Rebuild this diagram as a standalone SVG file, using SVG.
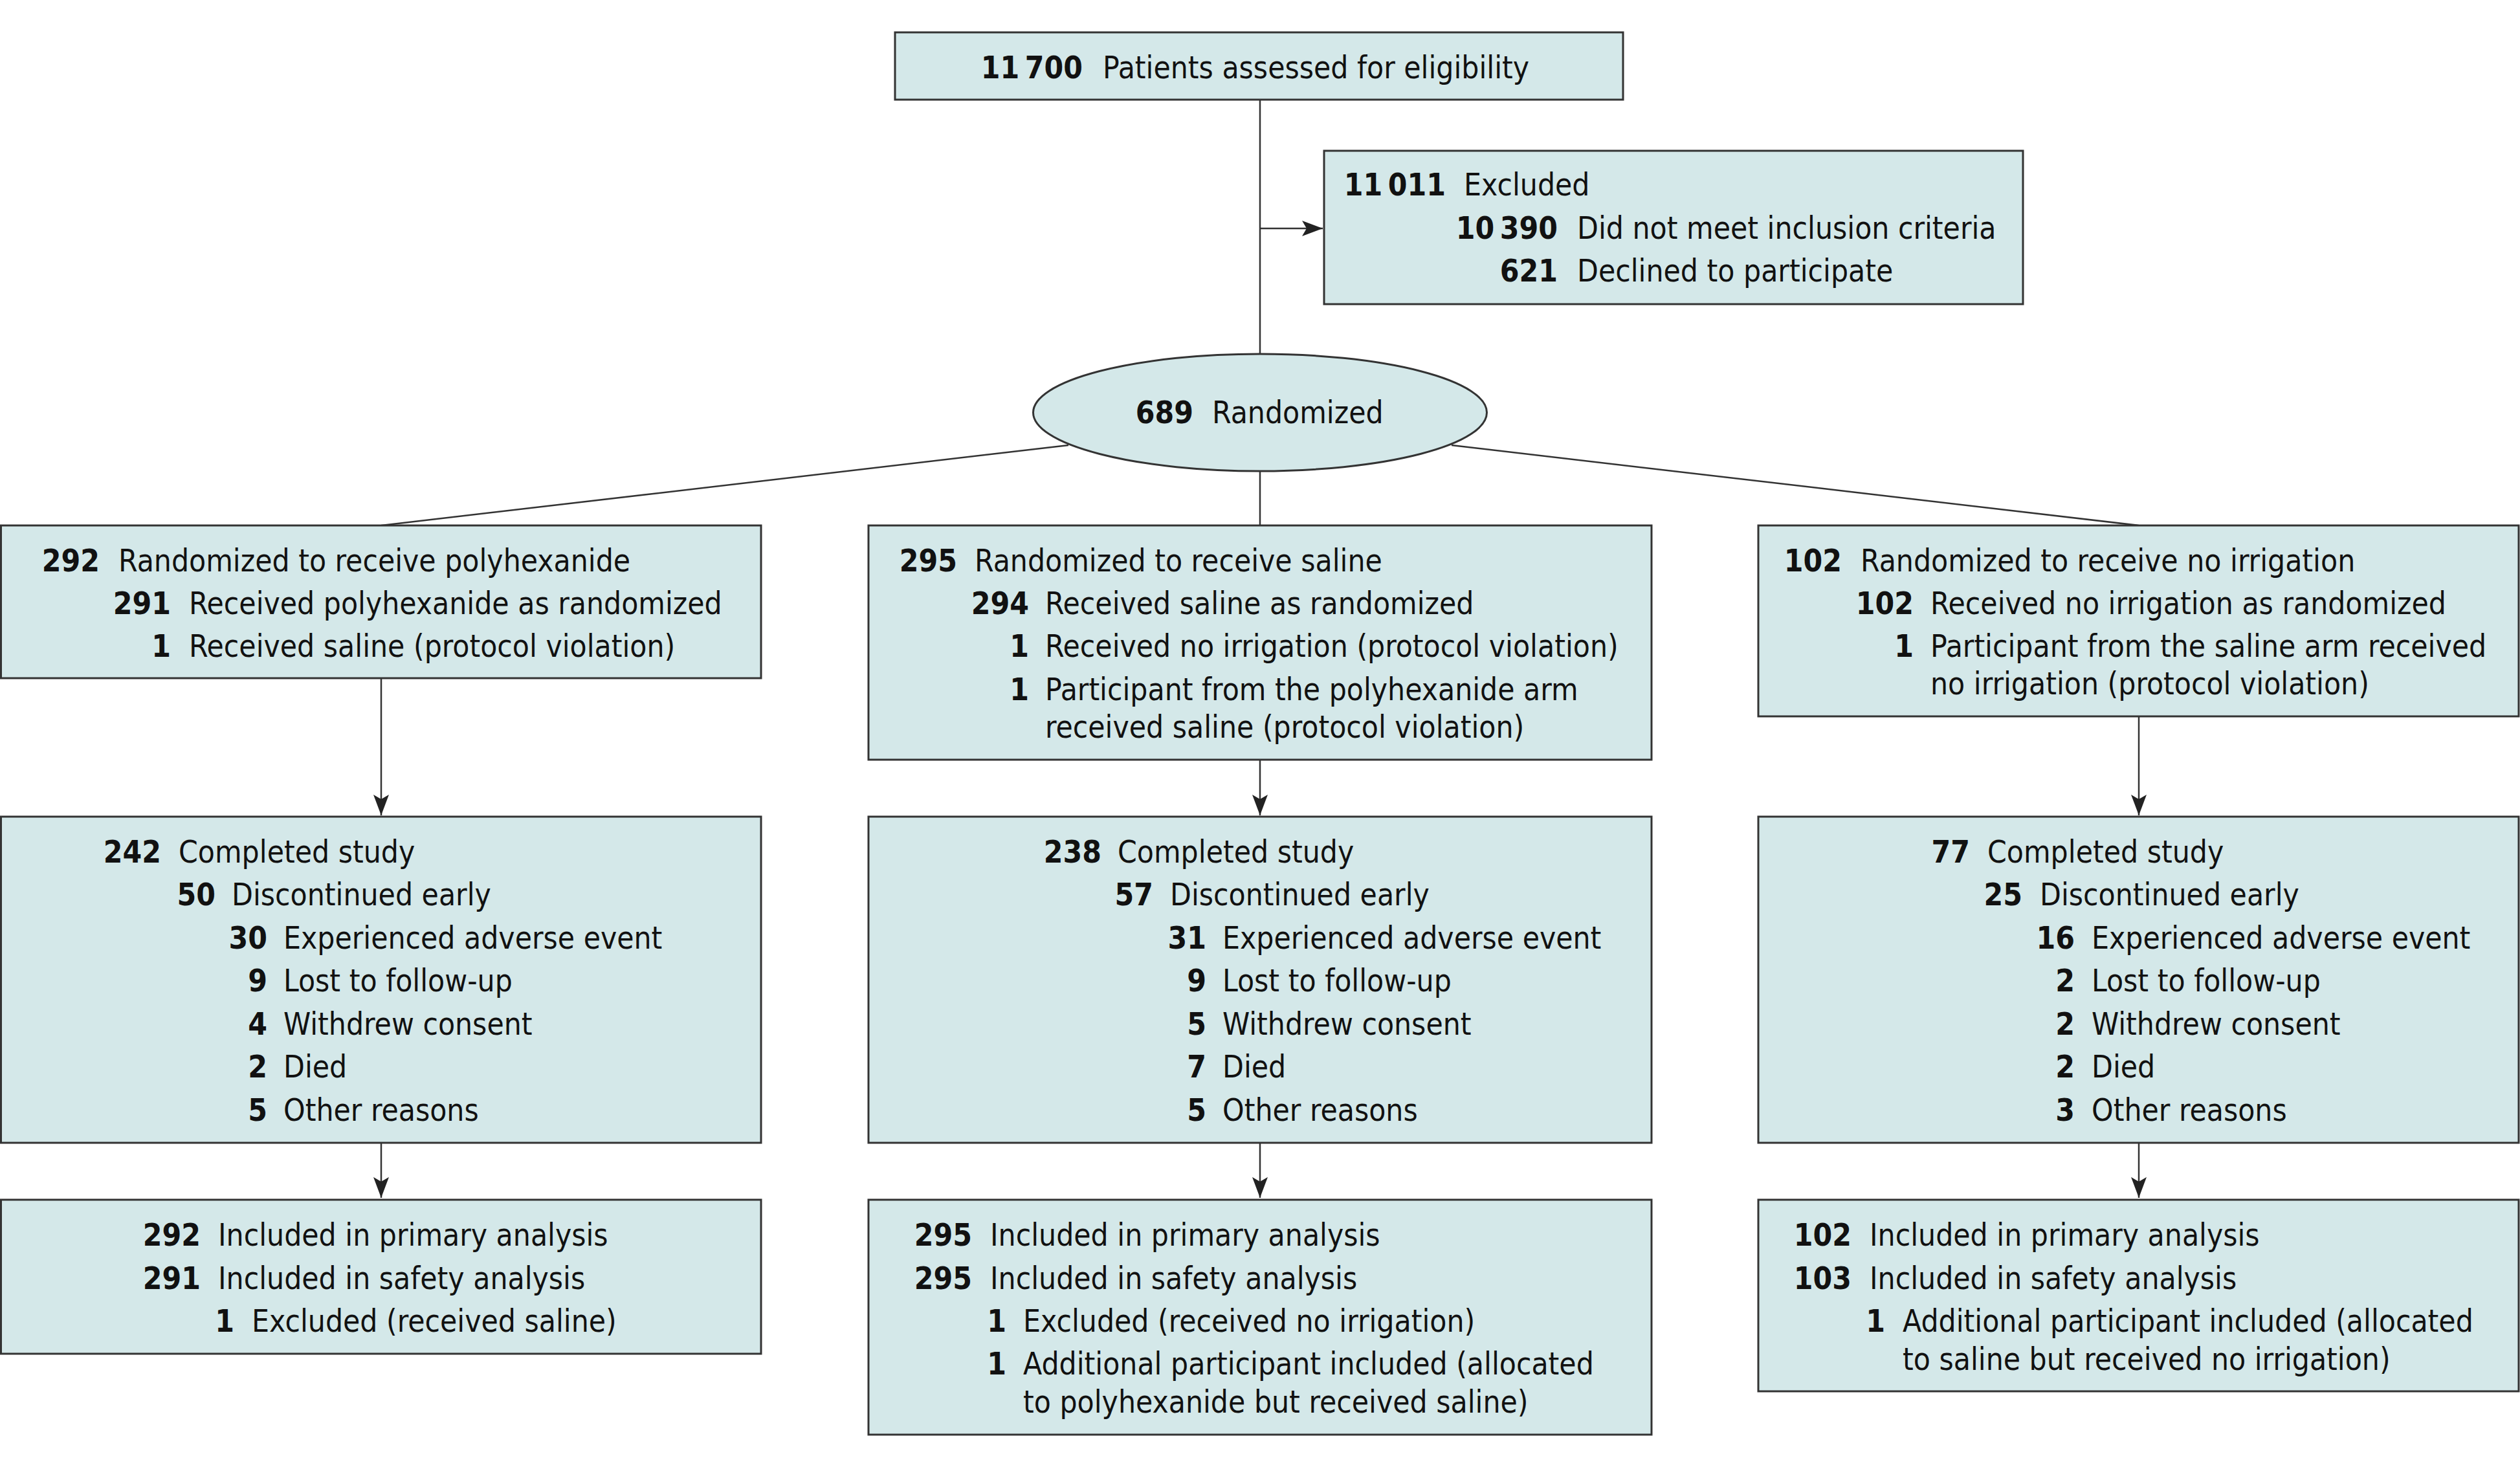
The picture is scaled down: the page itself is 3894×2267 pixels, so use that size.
<svg xmlns="http://www.w3.org/2000/svg" width="3894" height="2267" viewBox="0 0 3894 2267">
<defs>
<style>
.box{fill:#d4e8e9;stroke:#333;stroke-width:3}
text{font-family:"DejaVu Sans Condensed","DejaVu Sans",sans-serif;font-stretch:condensed;font-size:47.5px;fill:#111}
.n{font-weight:bold;text-anchor:end}
.c{fill:none;stroke:#333;stroke-width:2.5}
.a{marker-end:url(#arr)}
</style>
<marker id="arr" markerUnits="userSpaceOnUse" viewBox="-34 -14 36 28" markerWidth="36" markerHeight="28" refX="0" refY="0" orient="auto">
<path d="M0,0 L-32,-12 L-25,0 L-32,12 Z" fill="#222"/>
</marker>
</defs>
<rect width="3894" height="2267" fill="#fff"/>
<g id="connectors">
<line class="c" x1="1947" y1="154" x2="1947" y2="547"/>
<line class="c a" x1="1947" y1="353" x2="2044" y2="353"/>
<line class="c" x1="1651" y1="688" x2="589" y2="812"/>
<line class="c" x1="2243" y1="688" x2="3305" y2="812"/>
<line class="c" x1="1947" y1="728" x2="1947" y2="812"/>
<line class="c a" x1="589" y1="1048" x2="589" y2="1260"/>
<line class="c a" x1="1947" y1="1174" x2="1947" y2="1260"/>
<line class="c a" x1="3305" y1="1107" x2="3305" y2="1260"/>
<line class="c a" x1="589" y1="1766" x2="589" y2="1851"/>
<line class="c a" x1="1947" y1="1766" x2="1947" y2="1851"/>
<line class="c a" x1="3305" y1="1766" x2="3305" y2="1851"/>
</g>
<g id="assessed">
<rect class="box" x="1383" y="50" width="1125" height="104"/>
<text class="n" x="1673" y="121">11&#8201;700</text><text x="1704" y="121">Patients assessed for eligibility</text>
</g>
<g id="excluded">
<rect class="box" x="2046" y="233" width="1080" height="237"/>
<text class="n" x="2234" y="302">11&#8201;011</text><text x="2262" y="302">Excluded</text>
<text class="n" x="2407" y="369">10&#8201;390</text><text x="2437" y="369">Did not meet inclusion criteria</text>
<text class="n" x="2407" y="435">621</text><text x="2437" y="435">Declined to participate</text>
</g>
<g id="randomized">
<ellipse class="box" cx="1947" cy="637.5" rx="350.5" ry="90.5"/>
<text class="n" x="1844" y="654">689</text><text x="1873" y="654">Randomized</text>
</g>
<g id="alloc-polyhexanide">
<rect class="box" x="1.5" y="812" width="1174.5" height="236"/>
<text class="n" x="154" y="883">292</text><text x="183" y="883">Randomized to receive polyhexanide</text>
<text class="n" x="264" y="949">291</text><text x="292" y="949">Received polyhexanide as randomized</text>
<text class="n" x="264" y="1015">1</text><text x="292" y="1015">Received saline (protocol violation)</text>
</g>
<g id="alloc-saline">
<rect class="box" x="1342" y="812" width="1210" height="362"/>
<text class="n" x="1479" y="883">295</text><text x="1506" y="883">Randomized to receive saline</text>
<text class="n" x="1590" y="949">294</text><text x="1615" y="949">Received saline as randomized</text>
<text class="n" x="1590" y="1015">1</text><text x="1615" y="1015">Received no irrigation (protocol violation)</text>
<text class="n" x="1590" y="1082">1</text><text x="1615" y="1082">Participant from the polyhexanide arm</text>
<text x="1615" y="1140">received saline (protocol violation)</text>
</g>
<g id="alloc-none">
<rect class="box" x="2717" y="812" width="1175" height="295"/>
<text class="n" x="2846" y="883">102</text><text x="2875" y="883">Randomized to receive no irrigation</text>
<text class="n" x="2957" y="949">102</text><text x="2983" y="949">Received no irrigation as randomized</text>
<text class="n" x="2957" y="1015">1</text><text x="2983" y="1015">Participant from the saline arm received</text>
<text x="2983" y="1073">no irrigation (protocol violation)</text>
</g>
<g id="follow-polyhexanide">
<rect class="box" x="1.5" y="1262" width="1174.5" height="504"/>
<text class="n" x="249" y="1333">242</text><text x="276" y="1333">Completed study</text>
<text class="n" x="333" y="1399">50</text><text x="358" y="1399">Discontinued early</text>
<text class="n" x="413" y="1466">30</text><text x="438" y="1466">Experienced adverse event</text>
<text class="n" x="413" y="1532">9</text><text x="438" y="1532">Lost to follow-up</text>
<text class="n" x="413" y="1599">4</text><text x="438" y="1599">Withdrew consent</text>
<text class="n" x="413" y="1665">2</text><text x="438" y="1665">Died</text>
<text class="n" x="413" y="1732">5</text><text x="438" y="1732">Other reasons</text>
</g>
<g id="follow-saline">
<rect class="box" x="1342" y="1262" width="1210" height="504"/>
<text class="n" x="1702" y="1333">238</text><text x="1727" y="1333">Completed study</text>
<text class="n" x="1782" y="1399">57</text><text x="1808" y="1399">Discontinued early</text>
<text class="n" x="1864" y="1466">31</text><text x="1889" y="1466">Experienced adverse event</text>
<text class="n" x="1864" y="1532">9</text><text x="1889" y="1532">Lost to follow-up</text>
<text class="n" x="1864" y="1599">5</text><text x="1889" y="1599">Withdrew consent</text>
<text class="n" x="1864" y="1665">7</text><text x="1889" y="1665">Died</text>
<text class="n" x="1864" y="1732">5</text><text x="1889" y="1732">Other reasons</text>
</g>
<g id="follow-none">
<rect class="box" x="2717" y="1262" width="1175" height="504"/>
<text class="n" x="3044" y="1333">77</text><text x="3071" y="1333">Completed study</text>
<text class="n" x="3125" y="1399">25</text><text x="3152" y="1399">Discontinued early</text>
<text class="n" x="3206" y="1466">16</text><text x="3232" y="1466">Experienced adverse event</text>
<text class="n" x="3206" y="1532">2</text><text x="3232" y="1532">Lost to follow-up</text>
<text class="n" x="3206" y="1599">2</text><text x="3232" y="1599">Withdrew consent</text>
<text class="n" x="3206" y="1665">2</text><text x="3232" y="1665">Died</text>
<text class="n" x="3206" y="1732">3</text><text x="3232" y="1732">Other reasons</text>
</g>
<g id="analysis-polyhexanide">
<rect class="box" x="1.5" y="1854" width="1174.5" height="238"/>
<text class="n" x="310" y="1925">292</text><text x="337" y="1925">Included in primary analysis</text>
<text class="n" x="310" y="1992">291</text><text x="337" y="1992">Included in safety analysis</text>
<text class="n" x="362" y="2058">1</text><text x="389" y="2058">Excluded (received saline)</text>
</g>
<g id="analysis-saline">
<rect class="box" x="1342" y="1854" width="1210" height="363"/>
<text class="n" x="1502" y="1925">295</text><text x="1530" y="1925">Included in primary analysis</text>
<text class="n" x="1502" y="1992">295</text><text x="1530" y="1992">Included in safety analysis</text>
<text class="n" x="1555" y="2058">1</text><text x="1581" y="2058">Excluded (received no irrigation)</text>
<text class="n" x="1555" y="2124">1</text><text x="1581" y="2124">Additional participant included (allocated</text>
<text x="1581" y="2183">to polyhexanide but received saline)</text>
</g>
<g id="analysis-none">
<rect class="box" x="2717" y="1854" width="1175" height="296"/>
<text class="n" x="2861" y="1925">102</text><text x="2889" y="1925">Included in primary analysis</text>
<text class="n" x="2861" y="1992">103</text><text x="2889" y="1992">Included in safety analysis</text>
<text class="n" x="2913" y="2058">1</text><text x="2940" y="2058">Additional participant included (allocated</text>
<text x="2940" y="2117">to saline but received no irrigation)</text>
</g>
</svg>
